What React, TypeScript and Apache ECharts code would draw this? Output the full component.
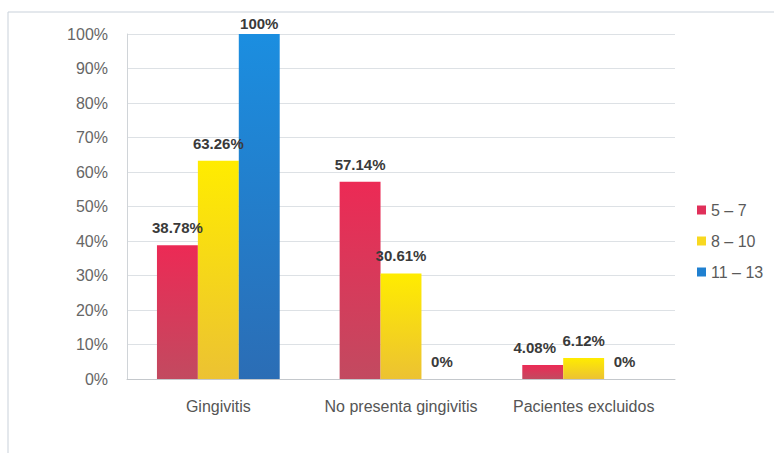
import React, { useEffect, useRef } from "react";
import * as echarts from "echarts";

const categories = ["Gingivitis", "No presenta gingivitis", "Pacientes excluidos"];
const seriesNames = ["5 – 7", "8 – 10", "11 – 13"];
const age5to7 = [38.78, 57.14, 4.08];
const age8to10 = [63.26, 30.61, 6.12];
const age11to13 = [100, 0, 0];
const yTicks = [0, 10, 20, 30, 40, 50, 60, 70, 80, 90, 100];

const grad = (top: string, bottom: string) =>
  new echarts.graphic.LinearGradient(0, 0, 0, 1, [
    { offset: 0, color: top },
    { offset: 1, color: bottom },
  ]);

export default function App() {
  const ref = useRef<HTMLDivElement>(null);
  useEffect(() => {
    if (!ref.current) return;
    const chart = echarts.init(ref.current, undefined, { renderer: "svg" });
    const font = "'Liberation Sans', Arial, sans-serif";
    const labelBase = {
      show: true,
      position: "top" as const,
      distance: 10,
      formatter: (p: any) => `${p.value}%`,
      fontFamily: font,
      fontSize: 15,
      fontWeight: "bold" as const,
      color: "#3a3a3a",
    };
    const mk = (name: string, data: number[], top: string, bottom: string, legendColor: string, seriesIdx: number) => ({
      name,
      type: "bar",
      data: data.map((v, i) => {
        if (v >= 100) return { value: v, label: { distance: 3 } };
        if (seriesIdx === 0 && i === 2) return { value: v, label: { offset: [-8, 0] } };
        return { value: v };
      }),
      barWidth: "22.4%",
      barGap: "0%",
      itemStyle: { color: grad(top, bottom) },
      label: labelBase,
      legendColor,
    });
    const series: any[] = [
      mk(seriesNames[0], age5to7, "#ec2a55", "#c24a60", "#e0305a", 0),
      mk(seriesNames[1], age8to10, "#ffec00", "#ecc232", "#f8d820", 1),
      mk(seriesNames[2], age11to13, "#1b8ee0", "#2b6db5", "#2080d0", 2),
    ];
    chart.setOption({
      animation: false,
      backgroundColor: "#ffffff",
      graphic: [
        {
          type: "rect",
          shape: { x: 8, y: 12, width: 800, height: 480 },
          style: { fill: "none", stroke: "#c9d1da", lineWidth: 1 },
          silent: true,
        },
      ],
      legend: {
        orient: "vertical",
        left: 692,
        top: 197,
        itemWidth: 9,
        itemHeight: 9,
        itemGap: 15,
        icon: "rect",
        textStyle: { fontFamily: font, fontSize: 16, color: "#5a5a5a" },
        data: series.map((s) => ({ name: s.name, itemStyle: { color: s.legendColor } })),
      },
      grid: { left: 127, right: 99, top: 34, bottom: 74, containLabel: false },
      xAxis: {
        type: "category",
        data: categories,
        axisLine: { lineStyle: { color: "#c4c8cc" } },
        axisTick: { show: false },
        axisLabel: { fontFamily: font, fontSize: 16, color: "#555", margin: 19, interval: 0 },
      },
      yAxis: {
        type: "value",
        min: yTicks[0],
        max: yTicks[yTicks.length - 1],
        interval: 10,
        axisLine: { show: true, lineStyle: { color: "#d0d4d8" } },
        axisTick: { show: false },
        splitLine: { lineStyle: { color: "#dde1e5" } },
        axisLabel: {
          fontFamily: font,
          fontSize: 16,
          color: "#666",
          margin: 19,
          formatter: (v: number) => `${v}%`,
        },
      },
      series,
    });
    return () => chart.dispose();
  }, []);
  return (
    <div
      ref={ref}
      style={{ position: "fixed", left: 0, top: 0, width: 774, height: 453 }}
    />
  );
}
